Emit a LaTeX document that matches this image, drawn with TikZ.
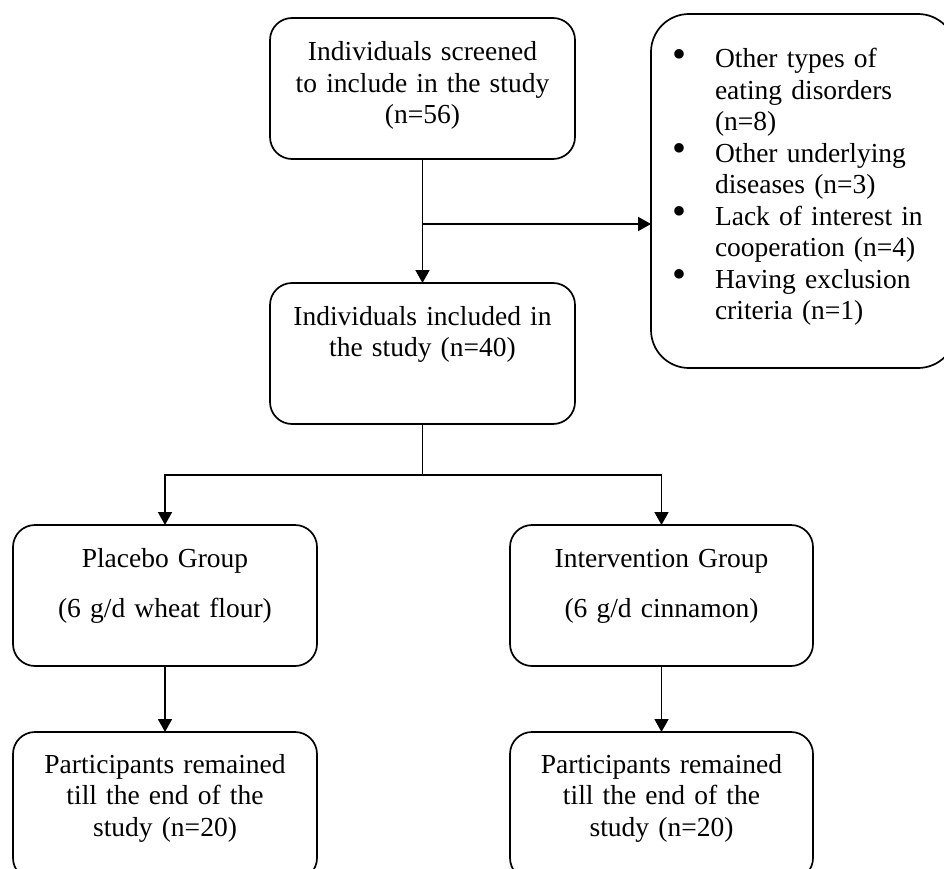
\documentclass[tikz,border=0pt]{standalone}
\usepackage{fontspec}
\setmainfont{Liberation Serif}
\usetikzlibrary{arrows.meta}
\newcommand{\bul}{\makebox[41pt][l]{\hspace*{-1.5pt}\raisebox{0.5pt}{\scalebox{1.45}{•}}}}
\begin{document}
\begin{tikzpicture}[x=1pt,y=-1pt,
  box/.style={draw, line width=1.7pt, rectangle, rounded corners=22pt, inner sep=0pt, outer sep=0pt},
  txt/.style={inner sep=0pt, outer sep=0pt, font=\fontsize{27.5}{31.5}\selectfont, text width=300pt, align=center},
  conn/.style={line width=1.7pt},
  arr/.style={line width=1.7pt, -{Triangle[length=13pt,width=14pt]}}]
\useasboundingbox (0,0) rectangle (944,869);
% boxes
\node[box, minimum width=305pt, minimum height=141pt] (b1) at (422.5,88.5) {};
\node[box, minimum width=305pt, minimum height=141pt] (b2) at (422.5,353.5) {};
\node[box, rounded corners=38pt, minimum width=305pt, minimum height=354pt] (b3) at (803.5,191) {};
\node[box, minimum width=304pt, minimum height=141pt] (b4) at (165,595.5) {};
\node[box, minimum width=303pt, minimum height=141pt] (b5) at (661.5,595.5) {};
\node[box, minimum width=304pt, minimum height=148pt] (b6) at (165,806) {};
\node[box, minimum width=303pt, minimum height=148pt] (b7) at (661.5,806) {};
% texts
\node[txt, anchor=base] (t1) at (422.5,61) {Individuals screened\\to include in the study\\(n=56)};
\node[txt, anchor=base] (t2) at (422.5,325) {Individuals included in\\the study (n=40)};
\node[txt, anchor=base] (t4) at (165,567) {Placebo Group\\[18.5pt](6 g/d wheat flour)};
\node[txt, anchor=base] (t5) at (661.5,567) {Intervention Group\\[18.5pt](6 g/d cinnamon)};
\node[txt, anchor=base] (t6) at (165,773) {Participants remained\\till the end of the\\study (n=20)};
\node[txt, anchor=base] (t7) at (661.5,773) {Participants remained\\till the end of the\\study (n=20)};
\node[txt, anchor=base west, text width=270pt, align=left] (t3) at (674,68) {%
\bul Other types of\\
\hspace*{41pt}eating disorders\\
\hspace*{41pt}(n=8)\\
\bul Other underlying\\
\hspace*{41pt}diseases (n=3)\\
\bul Lack of interest in\\
\hspace*{41pt}cooperation (n=4)\\
\bul Having exclusion\\
\hspace*{41pt}criteria (n=1)};
% connectors
\coordinate (j1) at (b1.south |- 0,224);
\coordinate (j2) at (b2.south |- 0,475);
\draw[arr] (b1.south) -- (b2.north);
\draw[arr] (j1) -- (j1 -| b3.west);
\draw[conn] (b2.south) -- (j2);
\draw[arr] (j2) -| (b4.north);
\draw[arr] (j2) -| (b5.north);
\draw[arr] (b4.south) -- (b6.north);
\draw[arr] (b5.south) -- (b7.north);
\end{tikzpicture}
\end{document}
